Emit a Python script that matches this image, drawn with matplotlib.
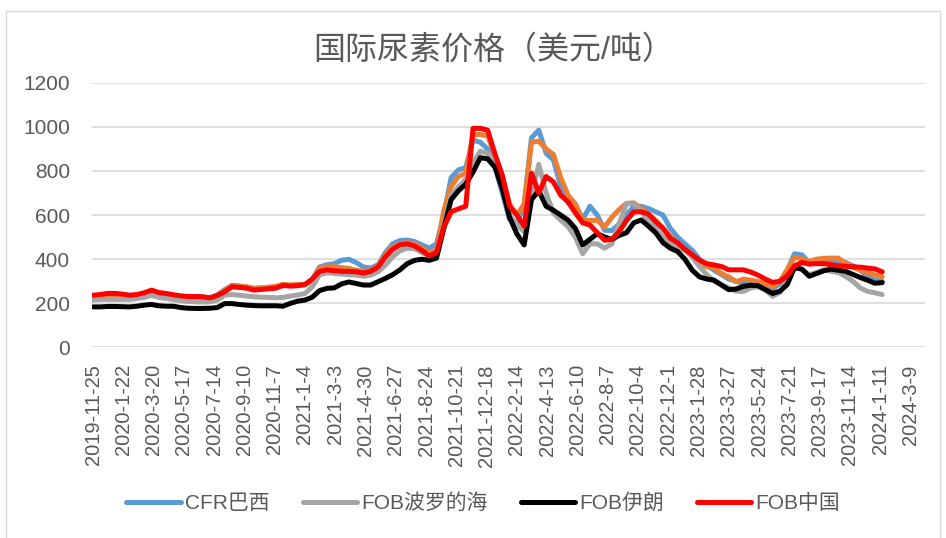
import pandas as pd
import matplotlib
matplotlib.use("Agg")
import matplotlib.pyplot as plt
from matplotlib.patches import Rectangle

plt.rcParams['font.family'] = ['Liberation Sans', 'Noto Sans CJK SC', 'DejaVu Sans']

# -----------------------------------------------------------
# Datos (cada 2 semanas)
# -----------------------------------------------------------
fechas = pd.date_range("2019-11-25", periods=109, freq="14D")

cfr_brasil = [
    232, 235, 238, 238, 236, 232, 235, 243, 255, 245,
    240, 235, 230, 228, 228, 228, 225, 238, 262, 282,
    278, 274, 268, 270, 272, 275, 285, 282, 283, 285,
    310, 365, 375, 380, 395, 400, 385, 365, 360, 375,
    430, 470, 485, 487, 480, 465, 450, 470, 600, 770,
    805, 815, 940, 930, 900, 820, 700, 580, 555, 650,
    950, 985, 880, 850, 730, 655, 650, 580, 640, 600,
    531, 530, 560, 600, 640, 640, 630, 615, 600, 540,
    500, 470, 440, 400, 370, 350, 330, 310, 300, 290,
    285, 278, 275, 265, 290, 350, 425, 420, 385, 385,
    395, 390, 385, 385, 370, 350, 320, 305, 300]

serie_naranja = [
    225, 228, 232, 233, 230, 227, 230, 238, 252, 242,
    236, 231, 227, 225, 225, 224, 222, 235, 258, 280,
    279, 275, 268, 270, 273, 277, 286, 283, 286, 285,
    305, 360, 366, 366, 362, 358, 350, 345, 350, 370,
    420, 455, 470, 475, 470, 450, 430, 440, 620, 730,
    775, 790, 965, 965, 960, 870, 780, 650, 600, 650,
    930, 935, 900, 875, 770, 690, 650, 576, 576, 576,
    546, 590, 625, 653, 655, 630, 605, 575, 540, 505,
    470, 445, 420, 380, 367, 360, 335, 320, 298, 310,
    305, 299, 288, 276, 300, 352, 408, 402, 390, 400,
    404, 405, 405, 382, 363, 351, 338, 329, 321]

fob_baltico = [
    215, 218, 218, 218, 218, 218, 222, 227, 236, 227,
    222, 218, 212, 209, 207, 206, 207, 215, 237, 240,
    237, 233, 230, 228, 227, 225, 227, 233, 238, 245,
    275, 330, 338, 336, 333, 330, 328, 323, 328, 343,
    373, 411, 438, 450, 448, 430, 415, 418, 560, 690,
    728, 762, 835, 890, 880, 840, 750, 600, 555, 525,
    690, 830, 700, 610, 577, 548, 500, 425, 470, 470,
    450, 470, 560, 653, 650, 620, 570, 540, 500, 470,
    450, 440, 410, 367, 330, 300, 285, 270, 255, 254,
    270, 275, 262, 232, 250, 305, 365, 355, 330, 340,
    352, 345, 340, 322, 300, 270, 254, 248, 240]

fob_iran = [
    184, 184, 186, 186, 185, 184, 187, 192, 195, 189,
    187, 187, 181, 178, 177, 177, 178, 181, 199, 199,
    195, 192, 190, 189, 189, 189, 187, 200, 210, 215,
    228, 258, 268, 270, 288, 297, 290, 283, 283, 298,
    313, 330, 352, 380, 395, 400, 395, 405, 540, 670,
    710, 740, 795, 860, 855, 817, 720, 590, 515, 465,
    670, 710, 640, 622, 600, 577, 540, 465, 490, 516,
    501, 490, 508, 520, 565, 578, 550, 520, 475, 450,
    435, 400, 350, 320, 310, 305, 283, 262, 265, 277,
    282, 280, 262, 245, 255, 285, 362, 355, 323, 335,
    348, 355, 350, 345, 331, 317, 305, 291, 294]

fob_china = [
    237, 240, 245, 245, 242, 237, 240, 248, 260, 249,
    245, 239, 234, 231, 231, 230, 225, 236, 252, 275,
    272, 269, 260, 263, 266, 269, 281, 278, 280, 285,
    310, 345, 352, 348, 345, 345, 343, 337, 345, 365,
    410, 445, 465, 470, 460, 440, 415, 430, 545, 615,
    628, 640, 993, 993, 985, 877, 780, 640, 600, 550,
    790, 700, 775, 750, 690, 660, 610, 565, 555, 520,
    486, 490, 525, 575, 615, 615, 605, 570, 540, 495,
    475, 445, 420, 395, 380, 374, 367, 352, 352, 352,
    342, 328, 310, 295, 300, 325, 370, 385, 378, 380,
    380, 375, 370, 368, 366, 364, 360, 356, 343]

y_ticks = [0, 200, 400, 600, 800, 1000, 1200]
inicio_eje = pd.Timestamp("2019-11-25")
x_ticks = pd.date_range(inicio_eje, periods=28, freq="58D")

gris_texto = "#595959"

# -----------------------------------------------------------
# Gráfico
# -----------------------------------------------------------
fig = plt.figure(figsize=(9.46, 5.38), dpi=100)
ax = fig.add_axes([0.0973, 0.3541, 0.8805, 0.4922])

estilo = dict(linewidth=3.6, solid_joinstyle="round", solid_capstyle="round")
ax.plot(fechas, cfr_brasil, color="#5b9bd5", label="CFR巴西", **estilo)
ax.plot(fechas, serie_naranja, color="#ed7d31", label="_nolegend_", **estilo)
ax.plot(fechas, fob_baltico, color="#a5a5a5", label="FOB波罗的海", **estilo)
ax.plot(fechas, fob_iran, color="#000000", label="FOB伊朗", **estilo)
ax.plot(fechas, fob_china, color="#ff0000", label="FOB中国", **estilo)

ax.set_ylim(0, 1200)
ax.set_yticks(y_ticks)
ax.set_xlim(inicio_eje - pd.Timedelta(days=2), inicio_eje + pd.Timedelta(days=1594))
ax.set_xticks(x_ticks)
ax.set_xticklabels([f"{d.year}-{d.month}-{d.day}" for d in x_ticks], rotation=90)

ax.grid(axis="y", color="#d9d9d9", linewidth=1.2)
ax.set_axisbelow(True)
for s in ax.spines.values():
    s.set_visible(False)
ax.tick_params(axis="y", length=0, pad=16, labelsize=15, labelcolor=gris_texto)
ax.tick_params(axis="x", length=0, pad=12, labelsize=14.5, labelcolor=gris_texto)

fig.text(0.522, 0.907, "国际尿素价格（美元/吨）", ha="center", va="center",
         fontsize=23, color=gris_texto)

fig.legend(loc="center", bbox_to_anchor=(0.511, 0.065), ncol=4, frameon=False,
           fontsize=15, handlelength=2.6, handletextpad=0.2, columnspacing=1.6,
           labelcolor=gris_texto)

# borde del área del gráfico
fig.add_artist(Rectangle((6 / 946, -0.02), 934 / 946, 1.0, transform=fig.transFigure,
                         fill=False, edgecolor="#d9d9d9", linewidth=1))

plt.savefig("out.png", dpi=100)
plt.close()
